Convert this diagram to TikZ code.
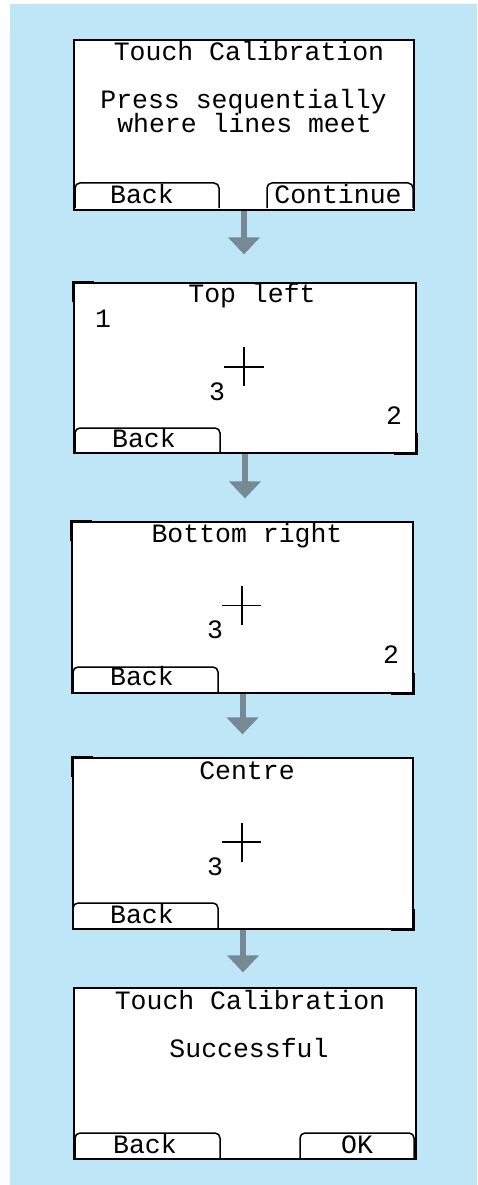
\documentclass[tikz,border=0pt]{standalone}
\usepackage{fontspec}
\newfontfamily\lcd{Liberation Mono}
\usetikzlibrary{arrows.meta}
\definecolor{bgblue}{RGB}{191,230,247}
\definecolor{arrowgrey}{RGB}{118,138,150}
\begin{document}
\begin{tikzpicture}[x=1pt,y=-1pt,
  screen/.style={draw=black, line width=1.2pt, fill=white, inner sep=0, minimum width=#1, minimum height=171pt},
  btn/.style={draw=black, line width=1.5pt, rounded corners=5pt},
  lcdtext/.style={font=\lcd\fontsize{26.5}{18}\selectfont, inner sep=0, anchor=base},
  flowarrow/.style={draw=arrowgrey, line width=6pt, -{Triangle[width=31pt,length=17pt]}},
  corner/.style={draw=black, line width=2.6pt},
  crossline/.style={draw=black, line width=1.5pt}]
\useasboundingbox (0,0) rectangle (477,1185);
\fill[bgblue] (10,4) rectangle (477,1185);

% screens
\node[screen=340pt, minimum height=170pt] (s1) at (244,125) {};
\node[screen=342pt, minimum height=170pt] (s2) at (245,368) {};
\node[screen=341pt] (s3) at (242.5,607.5) {};
\node[screen=340pt] (s4) at (243,843.5) {};
\node[screen=342pt] (s5) at (245,1073.5) {};

% arrows
\draw[flowarrow, shorten >=28pt] (s1.south) -- (s1.south |- s2.north);
\draw[flowarrow, shorten >=23pt] (s2.south) -- (s2.south |- s3.north);
\draw[flowarrow, shorten >=23pt] (s3.south) -- (s3.south |- s4.north);
\draw[flowarrow, shorten >=15pt] (s4.south) -- (s4.south |- s5.north);

% screen 1
\node[lcdtext] (t1) at (249,61) {Touch Calibration};
\node[lcdtext] (t1a) at (243.5,109) {Press sequentially};
\node[lcdtext] (t1b) at (244.5,133) {where lines meet};
\draw[btn] (75,208) -- (75,183) -- (219,183) -- (219,208);
\node[lcdtext] (b1) at (142,204) {Back};
\draw[btn] (267,208) -- (267,183) -- (413,183) -- (413,208);
\node[lcdtext] (c1) at (338,204) {Continue};

% screen 2
\draw[corner] (s2.north west) ++(0,20) -- (s2.north west) -- ++(21,0);
\draw[corner] (s2.south east) ++(0,-21) -- (s2.south east) -- ++(-23,0);
\node[lcdtext] (t2) at (252,302) {Top left};
\node[lcdtext] (n21) at (103,327) {1};
\node[lcdtext] (n23) at (217,400) {3};
\node[lcdtext] (n22) at (394,424) {2};
\draw[crossline] (224,367) -- (264,367) (244,347) -- (244,386);
\draw[btn] (75,453) -- (75,428) -- (220,428) -- (220,453);
\node[lcdtext] (b2) at (144,447) {Back};

% screen 3
\draw[corner] (s3.north west) ++(0,20) -- (s3.north west) -- ++(21,0);
\draw[corner] (s3.south east) ++(0,-21) -- (s3.south east) -- ++(-23,0);
\node[lcdtext] (t3) at (247,542) {Bottom right};
\node[lcdtext] (n33) at (215,638) {3};
\node[lcdtext] (n32) at (391,663) {2};
\draw[crossline] (222,605.5) -- (261,605.5) (242,586) -- (242,625);
\draw[btn] (73,693) -- (73,667) -- (218,667) -- (218,693);
\node[lcdtext] (b3) at (142,685) {Back};

% screen 4
\draw[corner] (s4.north west) ++(0,20) -- (s4.north west) -- ++(21,0);
\draw[corner] (s4.south east) ++(0,-21) -- (s4.south east) -- ++(-23,0);
\node[lcdtext] (t4) at (247,779) {Centre};
\node[lcdtext] (n43) at (215,875) {3};
\draw[crossline] (222,842) -- (261,842) (242,823) -- (242,862);
\draw[btn] (73,929) -- (73,903) -- (218,903) -- (218,929);
\node[lcdtext] (b4) at (142,923) {Back};

% screen 5
\node[lcdtext] (t5) at (250,1009) {Touch Calibration};
\node[lcdtext] (t5a) at (249,1057) {Successful};
\draw[btn] (75,1159) -- (75,1133) -- (220,1133) -- (220,1159);
\node[lcdtext] (b5) at (145,1153) {Back};
\draw[btn] (300,1159) -- (300,1133) -- (414,1133) -- (414,1159);
\node[lcdtext] (ok5) at (357,1153) {OK};
\end{tikzpicture}
\end{document}
